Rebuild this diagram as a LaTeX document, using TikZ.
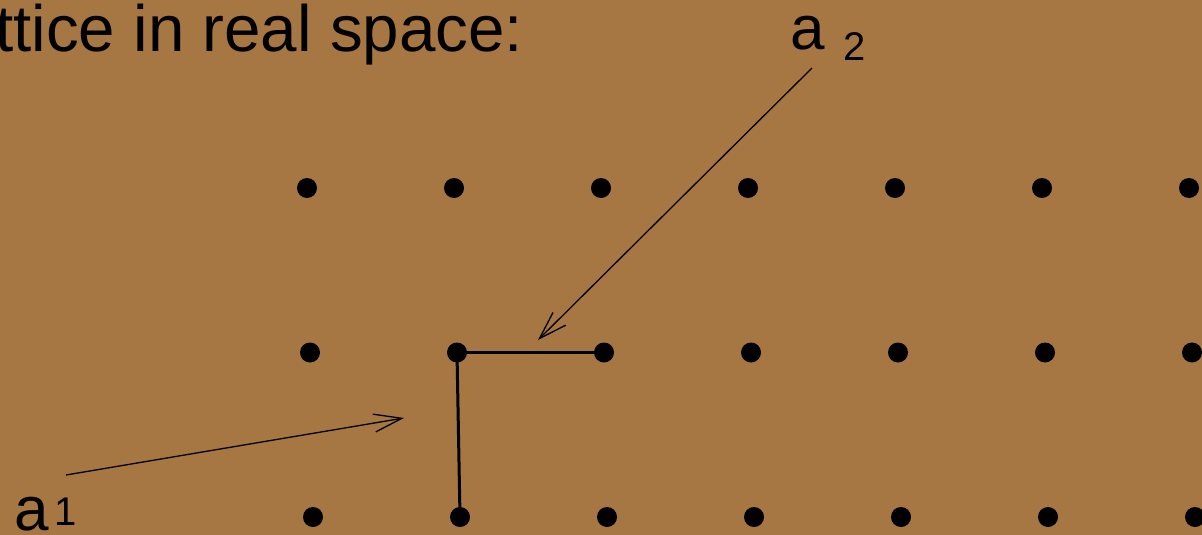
\documentclass[tikz,border=0pt]{standalone}
\usepackage{fontspec}
\setmainfont{Liberation Sans}
\usetikzlibrary{arrows.meta}
\definecolor{latticebrown}{RGB}{166,119,67}

\begin{document}
\begin{tikzpicture}[
  x=1pt,y=-1pt,
  >={Straight Barb[length=28pt,width=18pt,line width=1.3pt]},
  site/.style={circle,fill=black,minimum size=20pt,inner sep=0pt},
  bond/.style={line width=3pt},
  vec/.style={->,line width=1.3pt},
  big lab/.style={inner sep=0pt,anchor=base west,font=\fontsize{62}{70}\selectfont},
  small lab/.style={inner sep=0pt,anchor=base west,font=\fontsize{40}{46}\selectfont}
]
% Background and frame
\fill[latticebrown] (0,0) rectangle (1202,535);
\useasboundingbox (0,0) rectangle (1202,535);
\clip (0,0) rectangle (1202,535);

% Title (cut at the left edge)
\node[big lab,font=\fontsize{65.5}{72}\selectfont] (title) at (-5,52) {ttice in real space:};

% Lattice sites, rows slightly sheared
\foreach \r in {1,2,3}{
  \foreach \c in {1,...,7}{
    \node[site] (s-\r-\c) at ({307+3*(\r-1)+147*(\c-1)},{188+164.5*(\r-1)}) {};
  }
}

% Primitive vectors drawn as bonds
\draw[bond] (s-2-2.center) -- (s-2-3.center);
\draw[bond] (s-2-2.center) -- (s-3-2.center);

% Label a_2 and its arrow
\node[big lab] (atwo) at (790,50) {a};
\node[small lab] (atwosub) at (843,61) {2};
\coordinate (atwotail) at (812,68);
\coordinate (atwotip) at (538,340);
\draw[vec] (atwotail) -- (atwotip);

% Label a^1 and its arrow
\node[big lab] (aone) at (14,530) {a};
\node[small lab] (aonesup) at (54,525) {1};
\coordinate (aonetail) at (66,475);
\coordinate (aonetip) at (404,418);
\draw[vec] (aonetail) -- (aonetip);

\end{tikzpicture}
\end{document}
